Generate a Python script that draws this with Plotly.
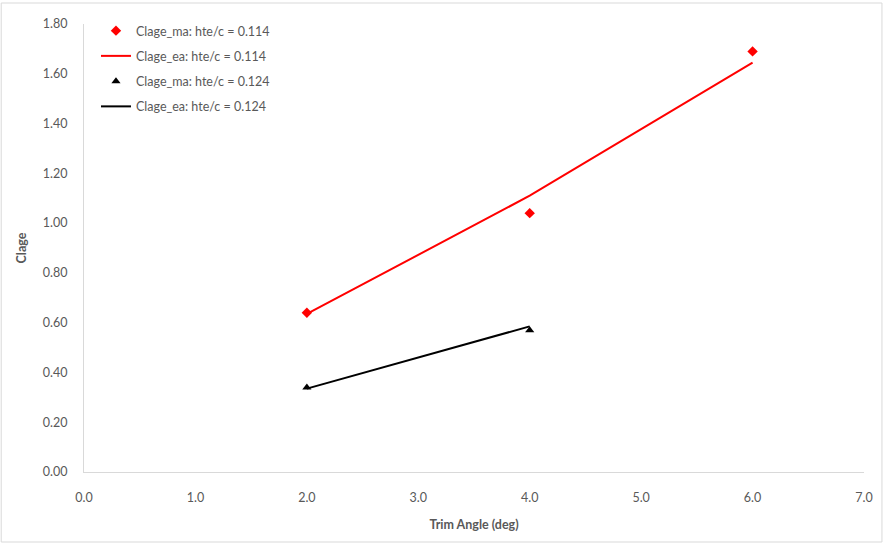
import plotly.graph_objects as go

# ---- data ----
trim_a = [2.0, 4.0, 6.0]
clage_ma_114 = [0.64, 1.04, 1.69]
clage_ea_114 = [0.635, 1.11, 1.645]

trim_b = [2.0, 4.0]
clage_ma_124 = [0.34, 0.57]
clage_ea_124 = [0.335, 0.585]

names = ["Clage_ma: hte/c = 0.114", "Clage_ea: hte/c = 0.114",
         "Clage_ma: hte/c = 0.124", "Clage_ea: hte/c = 0.124"]

x_ticks = [0, 1, 2, 3, 4, 5, 6, 7]
y_ticks = [0.0, 0.2, 0.4, 0.6, 0.8, 1.0, 1.2, 1.4, 1.6, 1.8]

FONT = "Lato, 'Open Sans', sans-serif"
GRAY = "#595959"
AXIS = "#d9d9d9"
FS = 12.5

fig = go.Figure()
fig.add_trace(go.Scatter(x=trim_a, y=clage_ma_114, mode="markers", name=names[0],
                         legendgroup="a",
                         marker=dict(symbol="diamond", size=8, color="#ff0000")))
fig.add_trace(go.Scatter(x=trim_a, y=clage_ea_114, mode="lines", name=names[1],
                         legendgroup="b",
                         line=dict(color="#ff0000", width=2)))
fig.add_trace(go.Scatter(x=trim_b, y=clage_ma_124, mode="markers", name=names[2],
                         legendgroup="c",
                         marker=dict(symbol="triangle-up", size=8, color="#000000")))
fig.add_trace(go.Scatter(x=trim_b, y=clage_ea_124, mode="lines", name=names[3],
                         legendgroup="d",
                         line=dict(color="#000000", width=2)))

L, R, T, B = 84, 19, 24, 74
W, H = 885, 546
pw, ph = W - L - R, H - T - B

fig.update_layout(
    width=W, height=H,
    margin=dict(l=L, r=R, t=T, b=B),
    paper_bgcolor="white", plot_bgcolor="white",
    font=dict(family=FONT, size=FS, color=GRAY),
    showlegend=True,
    legend=dict(x=(96 - L) / pw, y=(472 - 16) / ph, xanchor="left", yanchor="top",
                bgcolor="rgba(0,0,0,0)", font=dict(size=FS, color=GRAY),
                traceorder="grouped", tracegroupgap=6, itemwidth=30),
    xaxis=dict(range=[0, 7], tickvals=x_ticks, tickformat=".1f",
               showgrid=False, zeroline=False, showline=True, linecolor=AXIS,
               linewidth=1, ticks="outside", ticklen=14, tickcolor="rgba(0,0,0,0)",
               title=dict(text="<b>Trim Angle (deg)</b>", font=dict(size=FS, color=GRAY), standoff=16)),
    yaxis=dict(range=[0, 1.8], tickvals=y_ticks, tickformat=".2f",
               showgrid=False, zeroline=False, showline=True, linecolor=AXIS,
               linewidth=1, ticks="outside", ticklen=13, tickcolor="rgba(0,0,0,0)",
               title=dict(text="<b>Clage</b>", font=dict(size=FS, color=GRAY), standoff=13)),
    shapes=[dict(type="rect", xref="paper", yref="paper",
                 x0=(1 - L) / pw, x1=(884 - L) / pw,
                 y0=(472 - 542) / ph, y1=(472 - 3) / ph,
                 line=dict(color="#d9d9d9", width=1), fillcolor="rgba(0,0,0,0)", layer="below")],
)

fig.write_html("out.html")
